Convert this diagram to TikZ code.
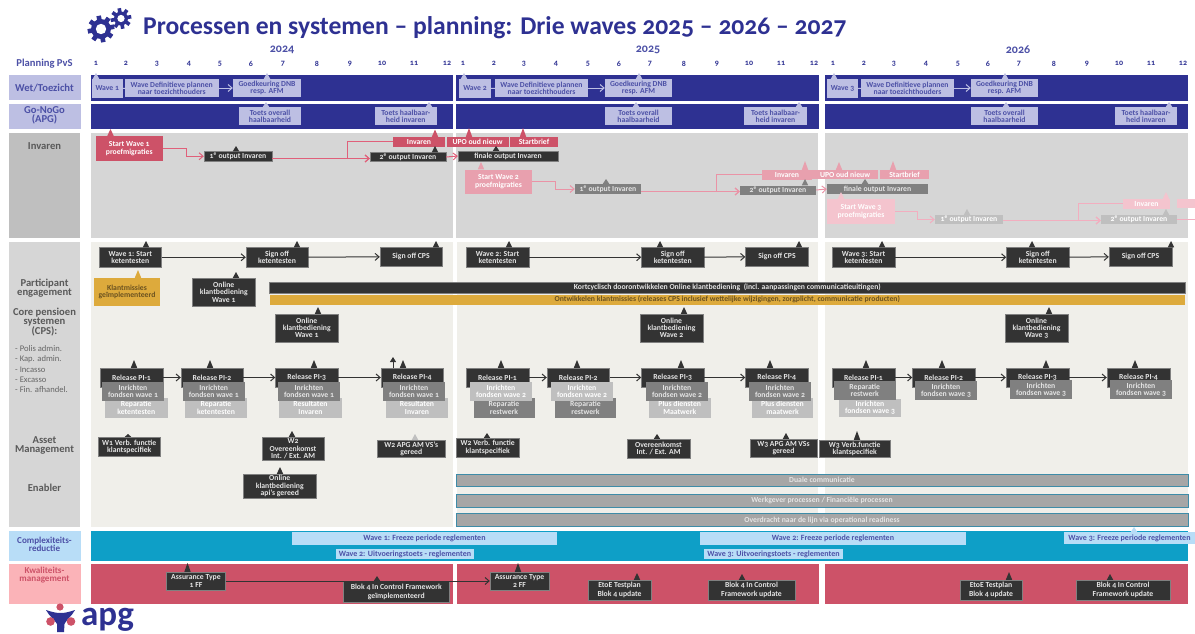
\documentclass[tikz,border=0pt]{standalone}
\usepackage{fontspec}
\setmainfont{Carlito}[Numbers=OldStyle]
\usetikzlibrary{arrows.meta,calc}
\definecolor{navy}{HTML}{2E3192}
\definecolor{lavender}{HTML}{BDBFE3}
\definecolor{lavtext}{HTML}{4C50A6}
\definecolor{dark}{HTML}{333333}
\definecolor{kpn}{HTML}{CD5268}
\definecolor{kpnmid}{HTML}{E8A0AE}
\definecolor{kpnlight}{HTML}{F4C4CE}
\definecolor{kpnsoft}{HTML}{FBB3B8}
\definecolor{linkred}{HTML}{E0607A}
\definecolor{linkmid}{HTML}{EA93A6}
\definecolor{linklight}{HTML}{F2AEBF}
\definecolor{gold}{HTML}{DDAA3C}
\definecolor{goldtext}{HTML}{6B5220}
\definecolor{cream}{HTML}{F0EFEA}
\definecolor{midgrey}{HTML}{808080}
\definecolor{softgrey}{HTML}{BFBFBF}
\definecolor{pale}{HTML}{D6D6D6}
\definecolor{skyband}{HTML}{0E9FC7}
\definecolor{skysoft}{HTML}{B8DDF7}
\definecolor{teal}{HTML}{3E8CA8}
\tikzset{%
	boxsize/.style 2 args = {minimum width = #1, minimum height = #2},
	base/.style     = {rectangle, inner sep = 0pt, align = center, font = \fontsize{7.7}{7.3}\selectfont\bfseries},
	tall/.style     = {font = \fontsize{7.7}{8.8}\selectfont\bfseries},
	lavbox/.style   = {base, fill = lavender, text = lavtext}, % Toezicht
	darkbox/.style  = {base, fill = dark, draw = gray, line width = 0.4pt, text = white!90!black}, % Milestone
	kpnbox/.style   = {base, fill = kpn, text = white}, % Wave 1
	midbox/.style   = {base, fill = kpnmid, text = white}, % Wave 2
	softbox/.style  = {base, fill = kpnlight, text = white}, % Wave 3
	greybox/.style  = {base, fill = midgrey, text = white!90!black},
	paleobox/.style = {base, fill = softgrey, text = white},
	goldbox/.style  = {base, fill = gold, text = goldtext},
	skybox/.style   = {base, fill = skysoft, text = lavtext, font = \fontsize{8}{8}\selectfont\bfseries},
	enabler/.style  = {base, fill = black!35, draw = teal, line width = 0.9pt, text = white!90!black},
	rowlabel/.style = {inner sep = 0pt, align = center, font = \fontsize{10.6}{8.6}\selectfont\bfseries, text = black!65},
	smalllabel/.style = {inner sep = 0pt, align = center, font = \fontsize{9.1}{8}\selectfont\bfseries},
	month/.style    = {inner sep = 0pt, font = \fontsize{8}{8}\selectfont\bfseries, text = navy},
	year/.style     = {inner sep = 0pt, font = \fontsize{12}{12}\selectfont\bfseries, text = lavtext},
	link/.style     = {-{Straight Barb[length=4pt,width=7pt]}, line width = 1pt},
}
\newcommand{\tip}[4]{%
	\coordinate (apex) at (#2,#3);
	\fill[#4] (apex) -- ($(apex |- #1.north)+(-3.2,0)$) -- ($(apex |- #1.north)+(3.2,0)$) -- cycle;
}
\newcommand{\gearmark}[4]{%
	\fill[navy] (#1,#2) circle (#3);
	\foreach \a in {0,45,...,315}
		\fill[navy,shift={(#1,#2)},rotate=\a+10] ({#3-1},-#4) rectangle ({#3+3.4},#4);
	\fill[white] (#1,#2) circle ({#3*0.52});
}
\begin{document}
\begin{tikzpicture}[x=1pt,y=-1pt]
	\useasboundingbox (0,0) rectangle (1195,633);
	% title
	\gearmark{101}{29}{10}{2.3}
	\gearmark{121}{18.5}{7}{1.8}
	\node[inner sep=0pt,anchor=west,font=\fontsize{25.6}{26}\selectfont\bfseries,text=navy] (title) at (143,27.5) {Processen en systemen -- planning: Drie waves 2025 -- 2026 -- 2027};
	\node[year] (y24) at (282,50) {2024};
	\node[year] (y25) at (648,50) {2025};
	\node[year] (y26) at (1018,50) {2026};
	\foreach \x [count=\i] in {96,126,157,189,220,251,283,317,350,382,414,447}
		\node[month] (ma\i) at (\x,63.5) {\i};
	\foreach \x [count=\i] in {463,494,524,556,588,619,650,684,717,749,781,814}
		\node[month] (mb\i) at (\x,63.5) {\i};
	\foreach \x [count=\i] in {833,864,894,926,958,988,1019,1054,1087,1119,1151,1183}
		\node[month] (mc\i) at (\x,63.5) {\i};
	% left column
	\fill[lavender] (9,75) rectangle (81,100);
	\fill[lavender] (9,103.5) rectangle (81,128.5);
	\fill[softgrey] (9,133) rectangle (80,238);
	\fill[pale] (9,242) rectangle (80,527);
	\fill[skysoft] (9,531) rectangle (81,561);
	\fill[kpnsoft] (9,563.5) rectangle (81,604);
	\node[rowlabel,text=lavtext] (lplan) at (44.5,64) {Planning PvS};
	\node[rowlabel,text=lavtext] (lwet) at (44.5,88) {Wet/Toezicht};
	\node[rowlabel,text=lavtext] (lgo) at (44.5,115.5) {Go-NoGo\\(APG)};
	\node[rowlabel] (linv) at (44.5,146.5) {Invaren};
	\node[rowlabel] (lpart) at (44.5,288) {Participant\\engagement};
	\node[rowlabel] (lcore) at (44.5,322.5) {Core pensioen\\systemen\\(CPS):};
	\node[inner sep=0pt,anchor=north west,align=left,font=\fontsize{8.6}{10.2}\selectfont,text=black!60] (lsys) at (15,345.5) {- Polis admin.\\- Kap. admin.\\- Incasso\\- Excasso\\- Fin. afhandel.};
	\node[rowlabel] (lasset) at (44.5,445.5) {Asset\\Management};
	\node[rowlabel] (lenab) at (44.5,488) {Enabler};
	\node[smalllabel,text=lavtext] (lcomp) at (44.5,544) {Complexiteits-\\reductie};
	\node[smalllabel,text=kpn] (lkwal) at (44.5,575.5) {Kwaliteits-\\management};
	% bands
	\fill[navy] (91,75) rectangle (453,100.5);
	\fill[navy] (456,75) rectangle (819,100.5);
	\fill[navy] (825,75) rectangle (1188,100.5);
	\fill[navy] (91,103.5) rectangle (453,128.5);
	\fill[navy] (456,103.5) rectangle (819,128.5);
	\fill[navy] (825,103.5) rectangle (1188,128.5);
	\fill[pale] (91,133) rectangle (453,238);
	\fill[pale] (456,133) rectangle (818,238);
	\fill[pale] (825,133) rectangle (1188,238);
	\fill[cream] (91,242) rectangle (453,527);
	\fill[cream] (457,242) rectangle (818,527);
	\fill[cream] (825,242) rectangle (1188,527);
	\fill[skyband] (91,531) rectangle (1188,561);
	\fill[kpn] (91,564) rectangle (453,604);
	\fill[kpn] (456.5,564) rectangle (819,604);
	\fill[kpn] (825,564) rectangle (1188,604);
	% wet/toezicht
	\node[lavbox,boxsize={30.5}{19}] (wv1) at (107.25,88.5) {Wave 1};
	\node[lavbox,boxsize={93.5}{18}] (wd1) at (171.75,88) {Wave Definitieve plannen\\naar toezichthouders};
	\node[lavbox,boxsize={68}{18}] (gk1) at (267,88) {Goedkeuring DNB\\resp. AFM};
	\node[lavbox,boxsize={32}{19}] (wv2) at (475,88.5) {Wave 2};
	\node[lavbox,boxsize={93}{18}] (wd2) at (541.5,88) {Wave Definitieve plannen\\naar toezichthouders};
	\node[lavbox,boxsize={67}{18}] (gk2) at (638.5,88) {Goedkeuring DNB\\resp. AFM};
	\node[lavbox,boxsize={31}{19}] (wv3) at (842.5,88.5) {Wave 3};
	\node[lavbox,boxsize={93}{18}] (wd3) at (907.5,88) {Wave Definitieve plannen\\naar toezichthouders};
	\node[lavbox,boxsize={67}{18}] (gk3) at (1004.5,88) {Goedkeuring DNB\\resp. AFM};
	\draw[lavender,line width=0.8pt] (wv1) -- (wd1);
	\draw[lavender,line width=0.8pt] (wv2) -- (wd2);
	\draw[lavender,line width=0.8pt] (wv3) -- (wd3);
	\draw[link,lavender] (wd1) -- (gk1);
	\draw[link,lavender] (wd2) -- (gk2);
	\draw[link,lavender] (wd3) -- (gk3);
	\tip{wv1}{96}{73}{lavender}
	\tip{gk1}{267}{73}{lavender}
	\tip{wv2}{464}{73}{lavender}
	\tip{gk2}{639}{73}{lavender}
	\tip{wv3}{834}{73}{lavender}
	\tip{gk3}{1005}{73}{lavender}
	% go-nogo
	\node[lavbox,boxsize={62}{18}] (to1) at (270,116) {Toets overall\\haalbaarheid};
	\node[lavbox,boxsize={61.5}{18}] (th1) at (405.75,116) {Toets haalbaar-\\heid invaren};
	\node[lavbox,boxsize={67}{18}] (to2) at (638.5,116) {Toets overall\\haalbaarheid};
	\node[lavbox,boxsize={63}{18}] (th2) at (775.5,116) {Toets haalbaar-\\heid invaren};
	\node[lavbox,boxsize={67}{18}] (to3) at (1004.5,116) {Toets overall\\haalbaarheid};
	\node[lavbox,boxsize={62}{18}] (th3) at (1146,116) {Toets haalbaar-\\heid invaren};
	\tip{to1}{266}{102}{lavender}
	\tip{th1}{429}{102}{lavender}
	\tip{to2}{636}{102}{lavender}
	\tip{th2}{799}{102}{lavender}
	\tip{to3}{1006}{102}{lavender}
	\tip{th3}{1169}{102}{lavender}
	% invaren wave 1
	\node[kpnbox,boxsize={67.5}{25}] (st1) at (129.25,148.5) {Start Wave 1\\proefmigraties};
	\node[darkbox,boxsize={68}{9.5}] (oa1) at (238,156.25) {1\textsuperscript{e} output Invaren};
	\node[kpnbox,boxsize={52}{9.5}] (inv1) at (419,141.75) {Invaren};
	\node[darkbox,boxsize={76}{9}] (ob1) at (408,157) {2\textsuperscript{e} output Invaren};
	\node[kpnbox,boxsize={62}{10}] (up1) at (477.5,142) {UPO oud nieuw};
	\node[kpnbox,boxsize={48}{10}] (sb1) at (534,142) {Startbrief};
	\node[darkbox,boxsize={100}{10}] (fi1) at (508,156) {finale output Invaren};
	\tip{st1}{110.5}{129}{kpn}
	\tip{oa1}{236}{146}{dark}
	\tip{inv1}{435}{129.5}{kpn}
	\tip{ob1}{435}{146}{dark}
	\tip{up1}{469}{128}{kpn}
	\tip{sb1}{523}{128}{kpn}
	\tip{fi1}{496}{146}{dark}
	\coordinate (in1) at ([yshift=-1.5pt]ob1.west);
	\draw[link,linkred] (st1.east) -- ++(23,0) |- (oa1.west);
	\draw[link,linkred] (in1 -| oa1.east) -- (in1);
	\draw[link,linkred] (inv1.west) -- ++(-45,0) |- (in1);
	\draw[link,linkred] (ob1.east) -- (fi1.west);
	% invaren wave 2
	\node[midbox,boxsize={67}{24.5}] (st2) at (498.5,181.75) {Start Wave 2\\proefmigraties};
	\node[greybox,boxsize={66}{10}] (oa2) at (608,189) {1\textsuperscript{e} output Invaren};
	\node[midbox,boxsize={50}{9.5}] (inv2) at (787,174.75) {Invaren};
	\node[greybox,boxsize={76}{9}] (ob2) at (778,190) {2\textsuperscript{e} output Invaren};
	\node[midbox,boxsize={66}{9}] (up2) at (845,174.5) {UPO oud nieuw};
	\node[midbox,boxsize={49}{9}] (sb2) at (904.5,174.5) {Startbrief};
	\node[greybox,boxsize={101}{10}] (fi2) at (877.5,189) {finale output Invaren};
	\tip{st2}{481}{162}{kpnmid}
	\tip{oa2}{606}{179}{midgrey}
	\tip{inv2}{805}{161}{kpnmid}
	\tip{ob2}{805}{179}{midgrey}
	\tip{up2}{839}{162}{kpnmid}
	\tip{sb2}{893}{161}{kpnmid}
	\tip{fi2}{865}{179}{midgrey}
	\coordinate (in2) at ([yshift=-1.5pt]ob2.west);
	\draw[link,linkmid] (st2.east) -- ++(23,0) |- (oa2.west);
	\draw[link,linkmid] (in2 -| oa2.east) -- (in2);
	\draw[link,linkmid] (inv2.west) -- ++(-45,0) |- (in2);
	\draw[link,linkmid] (ob2.east) -- (fi2.west);
	% invaren wave 3
	\node[softbox,boxsize={68}{25}] (st3) at (861,211.5) {Start Wave 3\\proefmigraties};
	\node[paleobox,boxsize={68}{9}] (oa3) at (969,219.5) {1\textsuperscript{e} output Invaren};
	\node[softbox,boxsize={47}{9.5}] (inv3) at (1146.5,203.75) {Invaren};
	\node[paleobox,boxsize={76}{9}] (ob3) at (1139,219.5) {2\textsuperscript{e} output Invaren};
	\node[softbox,boxsize={18}{9}] (up3) at (1186,203.5) {};
	\coordinate (outr) at (1195,219.5);
	\tip{st3}{841}{192}{kpnlight}
	\tip{oa3}{967}{209}{softgrey}
	\tip{inv3}{1166}{192}{kpnlight}
	\tip{ob3}{1166}{209}{softgrey}
	\coordinate (in3) at ([yshift=-1pt]ob3.west);
	\draw[link,linklight] (st3.east) -- ++(22,0) |- (oa3.west);
	\draw[link,linklight] (in3 -| oa3.east) -- (in3);
	\draw[link,linklight] (inv3.west) -- ++(-44,0) |- (in3);
	\draw[linklight,line width=1pt] (ob3.east) -- (outr);
	% ketentesten
	\node[darkbox,boxsize={62.5}{19.5}] (ws1) at (130.25,257.25) {Wave 1: Start\\ketentesten};
	\node[darkbox,boxsize={62}{19.5}] (so1) at (277,257.25) {Sign off\\ketentesten};
	\node[darkbox,boxsize={62}{18.5}] (sc1) at (411,256.75) {Sign off CPS};
	\node[darkbox,boxsize={63}{19.5}] (ws2) at (497.5,257.25) {Wave 2: Start\\ketentesten};
	\node[darkbox,boxsize={62.5}{19.5}] (so2) at (672.75,257.25) {Sign off\\ketentesten};
	\node[darkbox,boxsize={63}{18.5}] (sc2) at (777,256.75) {Sign off CPS};
	\node[darkbox,boxsize={63}{19.5}] (ws3) at (863.5,257.25) {Wave 3: Start\\ketentesten};
	\node[darkbox,boxsize={62.5}{19.5}] (so3) at (1037.75,257.25) {Sign off\\ketentesten};
	\node[darkbox,boxsize={63}{18.5}] (sc3) at (1140.5,256.75) {Sign off CPS};
	\tip{ws1}{146}{241}{dark}
	\tip{so1}{297}{241}{dark}
	\tip{sc1}{436}{241}{dark}
	\tip{ws2}{509}{241}{dark}
	\tip{so2}{660}{241}{dark}
	\tip{sc2}{799}{241}{dark}
	\tip{ws3}{882}{241}{dark}
	\tip{so3}{1032}{241}{dark}
	\tip{sc3}{1171}{241}{dark}
	\draw[link,dark] (ws1) -- (so1);
	\draw[link,dark] (so1) -- (sc1);
	\draw[link,dark] (ws2) -- (so2);
	\draw[link,dark] (so2) -- (sc2);
	\draw[link,dark] (ws3) -- (so3);
	\draw[link,dark] (so3) -- (sc3);
	% participant engagement
	\node[goldbox,boxsize={66}{27.5}] (km1) at (127,291.75) {Klantmissies\\geïmplementeerd};
	\node[darkbox,boxsize={62.5}{28.5}] (ok1) at (223.75,292.25) {Online\\klantbediening\\Wave 1};
	\node[darkbox,boxsize={915.5}{11}] (kort) at (727.25,287.5) {Kortcyclisch doorontwikkelen Online klantbediening\ \ (incl. aanpassingen communicatieuitingen)};
	\node[goldbox,boxsize={915.5}{10.5}] (ontw) at (727.25,299.75) {Ontwikkelen klantmissies (releases CPS inclusief wettelijke wijzigingen, zorgplicht, communicatie producten)};
	\node[darkbox,boxsize={62.5}{28}] (ok2) at (306.75,328) {Online\\klantbediening\\Wave 1};
	\node[darkbox,boxsize={63}{28}] (ok3) at (671.5,328) {Online\\klantbediening\\Wave 2};
	\node[darkbox,boxsize={63}{28}] (ok4) at (1036.5,328) {Online\\klantbediening\\Wave 3};
	\tip{km1}{138}{270}{gold}
	\tip{ok1}{236}{272}{dark}
	\tip{ok2}{318}{307}{dark}
	\tip{ok3}{684}{307}{dark}
	\tip{ok4}{1049}{307}{dark}
	% releases 2024
	\node[darkbox,boxsize={63}{19}] (r11) at (131.5,377.5) {Release PI-1};
	\node[darkbox,boxsize={62}{19}] (r12) at (212,377.5) {Release PI-2};
	\node[darkbox,boxsize={62.5}{19}] (r13) at (306.75,377.5) {Release PI-3};
	\node[darkbox,boxsize={62.5}{19}] (r14) at (412.25,377.5) {Release PI-4};
	\node[paleobox,boxsize={62.5}{19.5}] (b11) at (136.25,407.75) {Reparatie\\ketentesten};
	\node[paleobox,boxsize={62}{19.5}] (b12) at (216,407.75) {Reparatie\\ketentesten};
	\node[paleobox,boxsize={63}{19.5}] (b13) at (310.5,407.75) {Resultaten\\Invaren};
	\node[paleobox,boxsize={62}{19.5}] (b14) at (417,407.75) {Resultaten\\Invaren};
	\node[greybox,boxsize={62}{19}] (f11) at (133,391) {Inrichten\\fondsen wave 1};
	\node[greybox,boxsize={61.5}{19}] (f12) at (213.75,391) {Inrichten\\fondsen wave 1};
	\node[greybox,boxsize={62}{19}] (f13) at (309,391) {Inrichten\\fondsen wave 1};
	\node[greybox,boxsize={62}{19}] (f14) at (414,391) {Inrichten\\fondsen wave 1};
	\tip{r11}{134}{360}{dark}
	\tip{r12}{210}{360}{dark}
	\tip{r13}{314}{360}{dark}
	\tip{r14}{403}{360}{dark}
	\coordinate (up14) at (393,357);
	\draw[-{Triangle[length=5pt,width=6pt]},dark,line width=0.8pt] (up14 |- r14.north) -- (up14);
	\draw[link,dark] (r11) -- (r12);
	\draw[link,dark] (r12) -- (r13);
	\draw[link,dark] (r13) -- (r14);
	% releases 2025
	\node[darkbox,boxsize={63}{19}] (r21) at (497.5,377.5) {Release PI-1};
	\node[darkbox,boxsize={62.5}{19}] (r22) at (578.25,377.5) {Release PI-2};
	\node[darkbox,boxsize={62.5}{19}] (r23) at (672.75,377.5) {Release PI-3};
	\node[darkbox,boxsize={62.5}{19}] (r24) at (776.75,377.5) {Release PI-4};
	\node[greybox,boxsize={61}{19.5}] (b21) at (504,407.75) {Reparatie\\restwerk};
	\node[greybox,boxsize={61}{19.5}] (b22) at (585.5,407.75) {Reparatie\\restwerk};
	\node[paleobox,boxsize={62.5}{19.5}] (b23) at (679.75,407.75) {Plus diensten\\Maatwerk};
	\node[paleobox,boxsize={61}{19.5}] (b24) at (782.5,407.75) {Plus diensten\\maatwerk};
	\node[paleobox,boxsize={62}{19}] (f21) at (501,391) {Inrichten\\fondsen wave 2};
	\node[paleobox,boxsize={62}{19}] (f22) at (582,391) {Inrichten\\fondsen wave 2};
	\node[greybox,boxsize={62}{19}] (f23) at (677,391) {Inrichten\\fondsen wave 2};
	\node[greybox,boxsize={62}{19}] (f24) at (780,391) {Inrichten\\fondsen wave 2};
	\tip{r21}{501}{360}{dark}
	\tip{r22}{577}{360}{dark}
	\tip{r23}{681}{360}{dark}
	\tip{r24}{770}{360}{dark}
	\draw[link,dark] (r21) -- (r22);
	\draw[link,dark] (r22) -- (r23);
	\draw[link,dark] (r23) -- (r24);
	% releases 2026
	\node[darkbox,boxsize={63}{19}] (r31) at (863.5,377.5) {Release PI-1};
	\node[darkbox,boxsize={62.5}{19}] (r32) at (943.75,377.5) {Release PI-2};
	\node[darkbox,boxsize={63}{19}] (r33) at (1037.5,377.5) {Release PI-3};
	\node[darkbox,boxsize={63}{19}] (r34) at (1138.5,377.5) {Release PI-4};
	\node[paleobox,boxsize={62}{18.5}] (b31) at (870,408) {Inrichten\\fondsen wave 3};
	\node[greybox,boxsize={62.5}{19}] (f31) at (864.75,390.5) {Reparatie\\restwerk};
	\node[greybox,boxsize={62}{19}] (f32) at (946,390.5) {Inrichten\\fondsen wave 3};
	\node[greybox,boxsize={62}{19}] (f33) at (1041,389.5) {Inrichten\\fondsen wave 3};
	\node[greybox,boxsize={62}{19}] (f34) at (1141,389.5) {Inrichten\\fondsen wave 3};
	\tip{r31}{866}{360}{dark}
	\tip{r32}{942}{360}{dark}
	\tip{r33}{1046}{360}{dark}
	\tip{r34}{1135}{360}{dark}
	\draw[link,dark] (r31) -- (r32);
	\draw[link,dark] (r32) -- (r33);
	\draw[link,dark] (r33) -- (r34);
	% asset management
	\node[darkbox,boxsize={62.5}{19.5}] (am1) at (129.25,446.75) {W1 Verb. functie\\klantspecifiek};
	\node[darkbox,boxsize={62}{23.5}] (am2) at (293,448.75) {W2\\Overeenkomst\\Int. / Ext. AM};
	\node[darkbox,boxsize={67.5}{17.5}] (am3) at (411.25,448.75) {W2 APG AM VS's\\gereed};
	\node[darkbox,boxsize={73.5}{24}] (oa4) at (279.75,486) {Online\\klantbediening\\api's gereed};
	\node[darkbox,boxsize={62.5}{19}] (am4) at (487.75,447.5) {W2 Verb. functie\\klantspecifiek};
	\node[darkbox,boxsize={63}{19.5}] (am5) at (658.5,448.75) {Overeenkomst\\Int. / Ext. AM};
	\node[darkbox,boxsize={67}{18.5}] (am6) at (783.5,448.25) {W3 APG AM VSs\\gereed};
	\node[darkbox,boxsize={71.5}{17.5}] (am7) at (854.75,448.75) {W3 Verb.functie\\klantspecifiek};
	\tip{am1}{128}{434}{dark}
	\tip{am2}{292}{431}{dark}
	\tip{am3}{415}{434}{softgrey}
	\tip{oa4}{280}{467}{dark}
	\tip{am4}{487}{433}{dark}
	\tip{am5}{657}{434}{dark}
	\tip{am6}{786}{433}{dark}
	\tip{am7}{857}{431}{dark}
	% enablers
	\node[enabler,boxsize={732}{12}] (en1) at (822,480) {Duale communicatie};
	\node[enabler,boxsize={732}{13}] (en2) at (822,500.5) {Werkgever processen / Financiële processen};
	\node[enabler,boxsize={732}{12.5}] (en3) at (822,520) {Overdracht naar de lijn via operational readiness};
	% complexity
	\node[skybox,boxsize={265}{12.5}] (fr1) at (424.5,538.25) {Wave 1: Freeze periode reglementen};
	\node[skybox,boxsize={266}{12.5}] (fr2) at (833,538.25) {Wave 2: Freeze periode reglementen};
	\node[skybox,boxsize={131}{12}] (fr3) at (1129.5,538) {Wave 3: Freeze periode reglementen};
	\node[skybox,boxsize={138}{10}] (ui2) at (405,554) {Wave 2: Uitvoeringstoets - reglementen};
	\node[skybox,boxsize={139}{10}] (ui3) at (773.5,554) {Wave 3: Uitvoeringstoets - reglementen};
	\tip{fr3}{1134}{527}{skysoft}
	% quality
	\node[darkbox,tall,boxsize={59}{18}] (as1) at (196,581) {Assurance Type\\1 FF};
	\node[darkbox,tall,boxsize={106.5}{21.5}] (bk1) at (396.25,591.75) {Blok 4 In Control Framework\\geïmplementeerd};
	\node[darkbox,tall,boxsize={59}{18}] (as2) at (519.5,581) {Assurance Type\\2 FF};
	\node[darkbox,tall,boxsize={63}{20}] (te1) at (619.5,590) {EtoE Testplan\\Blok 4 update};
	\node[darkbox,tall,boxsize={87}{20}] (bk2) at (751.5,590) {Blok 4 In Control\\Framework update};
	\node[darkbox,tall,boxsize={62}{20}] (te2) at (991,590) {EtoE Testplan\\Blok 4 update};
	\node[darkbox,tall,boxsize={94}{20}] (bk3) at (1123,590) {Blok 4 In Control\\Framework update};
	\tip{as1}{187.5}{563}{dark}
	\tip{bk1}{377}{576}{dark}
	\tip{as2}{518}{563}{dark}
	\tip{te1}{637}{573}{dark}
	\tip{bk2}{742}{574}{dark}
	\tip{te2}{1009}{572}{dark}
	\tip{bk3}{1110}{574}{dark}
	\draw[link,dark] (as1) -- (as2);
	% logo
	\fill[navy] (46,610) .. controls (52,612) and (56,613) .. (60.5,613) .. controls (65,613) and (69,612) .. (75,610) .. controls (72,616) and (66,620) .. (64.5,624) -- (64,632) -- (57,632) -- (57,624) .. controls (55,620) and (49,616) .. (46,610) -- cycle;
	\fill[kpn] (60,607) circle (3.6);
	\fill[kpn] (50.5,621.5) circle (4.3);
	\fill[kpn] (71,621.5) circle (4.3);
	\node[inner sep=0pt,anchor=base west,font=\fontsize{35}{35}\selectfont\bfseries,text=navy] (apg) at (81,625) {apg};
\end{tikzpicture}
\end{document}
